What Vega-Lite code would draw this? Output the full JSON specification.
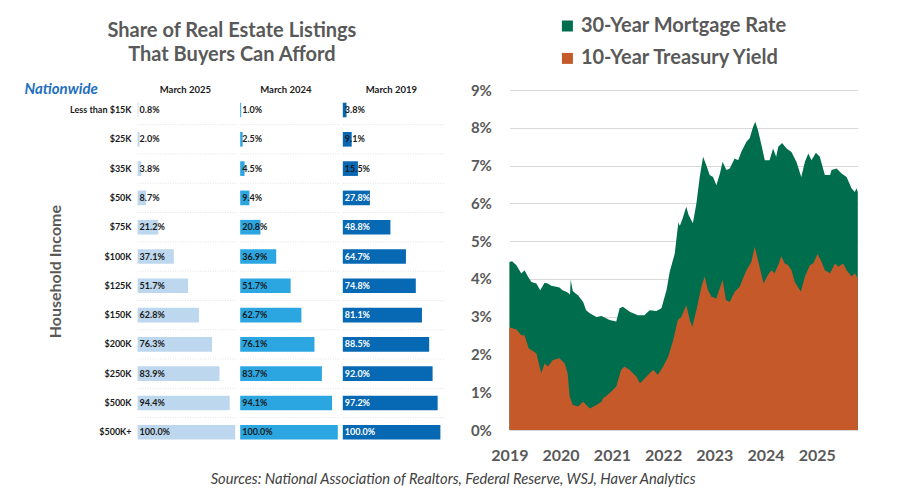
{
  "$schema": "https://vega.github.io/schema/vega-lite/v6.json",
  "padding": {"left": 23, "top": 16, "right": 10, "bottom": 10},
  "bounds": "flush",
  "spacing": 2.6,
  "config": {"view": {"stroke": null}, "font": "Lato"},
  "resolve": {"scale": {"x": "independent", "y": "independent"}},
  "datasets": {
    "afford": [
      {"income": "Less than $15K", "period": "March 2025", "share": 0.008},
      {"income": "$25K", "period": "March 2025", "share": 0.020},
      {"income": "$35K", "period": "March 2025", "share": 0.038},
      {"income": "$50K", "period": "March 2025", "share": 0.087},
      {"income": "$75K", "period": "March 2025", "share": 0.212},
      {"income": "$100K", "period": "March 2025", "share": 0.371},
      {"income": "$125K", "period": "March 2025", "share": 0.517},
      {"income": "$150K", "period": "March 2025", "share": 0.628},
      {"income": "$200K", "period": "March 2025", "share": 0.763},
      {"income": "$250K", "period": "March 2025", "share": 0.839},
      {"income": "$500K", "period": "March 2025", "share": 0.944},
      {"income": "$500K+", "period": "March 2025", "share": 1.000},
      {"income": "Less than $15K", "period": "March 2024", "share": 0.010},
      {"income": "$25K", "period": "March 2024", "share": 0.025},
      {"income": "$35K", "period": "March 2024", "share": 0.045},
      {"income": "$50K", "period": "March 2024", "share": 0.094},
      {"income": "$75K", "period": "March 2024", "share": 0.208},
      {"income": "$100K", "period": "March 2024", "share": 0.369},
      {"income": "$125K", "period": "March 2024", "share": 0.517},
      {"income": "$150K", "period": "March 2024", "share": 0.627},
      {"income": "$200K", "period": "March 2024", "share": 0.761},
      {"income": "$250K", "period": "March 2024", "share": 0.837},
      {"income": "$500K", "period": "March 2024", "share": 0.941},
      {"income": "$500K+", "period": "March 2024", "share": 1.000},
      {"income": "Less than $15K", "period": "March 2019", "share": 0.038},
      {"income": "$25K", "period": "March 2019", "share": 0.091},
      {"income": "$35K", "period": "March 2019", "share": 0.155},
      {"income": "$50K", "period": "March 2019", "share": 0.278},
      {"income": "$75K", "period": "March 2019", "share": 0.488},
      {"income": "$100K", "period": "March 2019", "share": 0.647},
      {"income": "$125K", "period": "March 2019", "share": 0.748},
      {"income": "$150K", "period": "March 2019", "share": 0.811},
      {"income": "$200K", "period": "March 2019", "share": 0.885},
      {"income": "$250K", "period": "March 2019", "share": 0.920},
      {"income": "$500K", "period": "March 2019", "share": 0.972},
      {"income": "$500K+", "period": "March 2019", "share": 1.000}
    ],
    "mortgage": [
      {"date": "2019-01-01", "rate": 4.45}, {"date": "2019-01-20", "rate": 4.47}, {"date": "2019-02-20", "rate": 4.36},
      {"date": "2019-03-27", "rate": 4.14}, {"date": "2019-04-19", "rate": 4.23}, {"date": "2019-05-15", "rate": 4.05},
      {"date": "2019-06-07", "rate": 3.92}, {"date": "2019-07-12", "rate": 3.88}, {"date": "2019-08-09", "rate": 3.70},
      {"date": "2019-09-09", "rate": 3.90}, {"date": "2019-10-01", "rate": 3.88}, {"date": "2019-10-27", "rate": 3.82},
      {"date": "2019-12-01", "rate": 3.79}, {"date": "2019-12-24", "rate": 3.77}, {"date": "2020-01-15", "rate": 3.70},
      {"date": "2020-02-10", "rate": 3.66}, {"date": "2020-02-28", "rate": 3.62}, {"date": "2020-03-08", "rate": 3.58},
      {"date": "2020-03-13", "rate": 3.98}, {"date": "2020-03-28", "rate": 3.68}, {"date": "2020-04-15", "rate": 3.62},
      {"date": "2020-05-04", "rate": 3.57}, {"date": "2020-06-10", "rate": 3.39}, {"date": "2020-07-01", "rate": 3.17},
      {"date": "2020-07-27", "rate": 3.09}, {"date": "2020-09-13", "rate": 2.99}, {"date": "2020-10-19", "rate": 3.02},
      {"date": "2020-12-15", "rate": 2.91}, {"date": "2021-02-01", "rate": 2.87}, {"date": "2021-02-25", "rate": 3.22},
      {"date": "2021-03-20", "rate": 3.26}, {"date": "2021-05-08", "rate": 3.13}, {"date": "2021-07-05", "rate": 3.04},
      {"date": "2021-08-20", "rate": 3.04}, {"date": "2021-09-27", "rate": 3.17}, {"date": "2021-11-14", "rate": 3.15},
      {"date": "2021-12-20", "rate": 3.22}, {"date": "2022-01-25", "rate": 3.70}, {"date": "2022-02-17", "rate": 4.19},
      {"date": "2022-03-25", "rate": 4.67}, {"date": "2022-04-05", "rate": 5.03}, {"date": "2022-04-20", "rate": 5.50},
      {"date": "2022-04-30", "rate": 5.40}, {"date": "2022-05-20", "rate": 5.60}, {"date": "2022-06-15", "rate": 5.91},
      {"date": "2022-07-01", "rate": 5.70}, {"date": "2022-08-01", "rate": 5.47}, {"date": "2022-08-26", "rate": 5.99},
      {"date": "2022-09-19", "rate": 6.70}, {"date": "2022-10-13", "rate": 7.23}, {"date": "2022-11-05", "rate": 7.01},
      {"date": "2022-11-29", "rate": 6.75}, {"date": "2022-12-23", "rate": 6.70}, {"date": "2023-01-16", "rate": 6.48},
      {"date": "2023-02-10", "rate": 6.79}, {"date": "2023-03-01", "rate": 7.10}, {"date": "2023-03-28", "rate": 6.88},
      {"date": "2023-04-21", "rate": 6.92}, {"date": "2023-05-26", "rate": 7.19}, {"date": "2023-06-20", "rate": 7.14},
      {"date": "2023-07-12", "rate": 7.36}, {"date": "2023-08-18", "rate": 7.63}, {"date": "2023-09-10", "rate": 7.72},
      {"date": "2023-10-04", "rate": 8.02}, {"date": "2023-10-20", "rate": 8.16}, {"date": "2023-11-08", "rate": 7.94},
      {"date": "2023-12-01", "rate": 7.58}, {"date": "2023-12-27", "rate": 7.14}, {"date": "2024-01-30", "rate": 7.14},
      {"date": "2024-02-24", "rate": 7.45}, {"date": "2024-03-17", "rate": 7.23}, {"date": "2024-04-01", "rate": 7.50},
      {"date": "2024-04-28", "rate": 7.60}, {"date": "2024-05-30", "rate": 7.45}, {"date": "2024-07-04", "rate": 7.36},
      {"date": "2024-08-08", "rate": 7.10}, {"date": "2024-09-12", "rate": 6.70}, {"date": "2024-10-08", "rate": 7.10},
      {"date": "2024-11-01", "rate": 7.32}, {"date": "2024-11-24", "rate": 7.14}, {"date": "2024-12-25", "rate": 7.34},
      {"date": "2025-01-22", "rate": 7.23}, {"date": "2025-02-27", "rate": 6.75}, {"date": "2025-04-05", "rate": 6.75},
      {"date": "2025-04-16", "rate": 6.88}, {"date": "2025-05-22", "rate": 6.92}, {"date": "2025-06-26", "rate": 6.79},
      {"date": "2025-08-01", "rate": 6.70}, {"date": "2025-09-06", "rate": 6.39}, {"date": "2025-09-29", "rate": 6.30},
      {"date": "2025-10-10", "rate": 6.40}, {"date": "2025-10-20", "rate": 6.30}
    ],
    "treasury": [
      {"date": "2019-01-01", "yield": 2.72}, {"date": "2019-02-20", "yield": 2.66}, {"date": "2019-03-27", "yield": 2.51},
      {"date": "2019-04-19", "yield": 2.51}, {"date": "2019-05-19", "yield": 2.16}, {"date": "2019-07-12", "yield": 2.03},
      {"date": "2019-08-16", "yield": 1.50}, {"date": "2019-09-09", "yield": 1.76}, {"date": "2019-10-03", "yield": 1.68},
      {"date": "2019-11-07", "yield": 1.85}, {"date": "2019-12-24", "yield": 1.90}, {"date": "2020-01-30", "yield": 1.76},
      {"date": "2020-02-20", "yield": 1.50}, {"date": "2020-03-06", "yield": 0.88}, {"date": "2020-03-28", "yield": 0.66},
      {"date": "2020-05-04", "yield": 0.62}, {"date": "2020-06-10", "yield": 0.75}, {"date": "2020-07-27", "yield": 0.57},
      {"date": "2020-09-13", "yield": 0.66}, {"date": "2020-10-19", "yield": 0.75}, {"date": "2020-10-30", "yield": 0.84},
      {"date": "2020-12-15", "yield": 0.97}, {"date": "2021-02-01", "yield": 1.15}, {"date": "2021-03-07", "yield": 1.59},
      {"date": "2021-03-31", "yield": 1.68}, {"date": "2021-05-08", "yield": 1.59}, {"date": "2021-06-25", "yield": 1.41},
      {"date": "2021-07-20", "yield": 1.24}, {"date": "2021-09-27", "yield": 1.50}, {"date": "2021-10-22", "yield": 1.59},
      {"date": "2021-11-25", "yield": 1.46}, {"date": "2022-01-01", "yield": 1.68}, {"date": "2022-02-06", "yield": 1.94},
      {"date": "2022-03-14", "yield": 2.38}, {"date": "2022-04-16", "yield": 2.91}, {"date": "2022-05-10", "yield": 2.99},
      {"date": "2022-06-15", "yield": 3.30}, {"date": "2022-07-10", "yield": 2.91}, {"date": "2022-07-28", "yield": 2.73},
      {"date": "2022-08-26", "yield": 3.17}, {"date": "2022-10-01", "yield": 3.79}, {"date": "2022-10-24", "yield": 4.06},
      {"date": "2022-11-17", "yield": 3.70}, {"date": "2022-12-12", "yield": 3.53}, {"date": "2023-01-16", "yield": 3.48},
      {"date": "2023-02-04", "yield": 3.70}, {"date": "2023-03-01", "yield": 3.97}, {"date": "2023-03-25", "yield": 3.44},
      {"date": "2023-04-21", "yield": 3.39}, {"date": "2023-05-26", "yield": 3.66}, {"date": "2023-07-01", "yield": 3.79},
      {"date": "2023-07-24", "yield": 4.01}, {"date": "2023-08-18", "yield": 4.23}, {"date": "2023-09-22", "yield": 4.45},
      {"date": "2023-10-16", "yield": 4.85}, {"date": "2023-11-08", "yield": 4.50}, {"date": "2023-12-01", "yield": 4.14},
      {"date": "2023-12-18", "yield": 3.88}, {"date": "2024-01-18", "yield": 4.10}, {"date": "2024-02-12", "yield": 4.23},
      {"date": "2024-03-06", "yield": 4.15}, {"date": "2024-04-05", "yield": 4.41}, {"date": "2024-04-22", "yield": 4.60},
      {"date": "2024-05-17", "yield": 4.41}, {"date": "2024-06-09", "yield": 4.37}, {"date": "2024-07-04", "yield": 4.23},
      {"date": "2024-07-28", "yield": 3.92}, {"date": "2024-09-09", "yield": 3.66}, {"date": "2024-10-08", "yield": 4.06},
      {"date": "2024-11-13", "yield": 4.37}, {"date": "2024-12-06", "yield": 4.41}, {"date": "2025-01-06", "yield": 4.66},
      {"date": "2025-02-04", "yield": 4.45}, {"date": "2025-02-27", "yield": 4.23}, {"date": "2025-04-05", "yield": 4.15},
      {"date": "2025-05-10", "yield": 4.41}, {"date": "2025-06-03", "yield": 4.32}, {"date": "2025-07-08", "yield": 4.41},
      {"date": "2025-08-01", "yield": 4.23}, {"date": "2025-09-06", "yield": 4.06}, {"date": "2025-09-29", "yield": 4.15},
      {"date": "2025-10-20", "yield": 4.01}
    ]
  },
  "hconcat": [
    {
      "width": 1,
      "height": 362.3,
      "data": {"name": "afford"},
      "transform": [{"filter": "datum.period === 'March 2025'"}],
      "title": {"text": ["Share of Real Estate Listings", "That Buyers Can Afford"], "anchor": "start", "frame": "group", "align": "center", "dx": 97.9, "offset": 16, "fontSize": 20, "lineHeight": 24.5, "fontWeight": "bold", "color": "#595959"},
      "mark": {"type": "bar", "opacity": 0},
      "encoding": {
        "y": {
          "field": "income", "type": "nominal",
          "scale": {"domain": ["Less than $15K", "$25K", "$35K", "$50K", "$75K", "$100K", "$125K", "$150K", "$200K", "$250K", "$500K", "$500K+"], "paddingInner": 0.5, "paddingOuter": 0.4326},
          "axis": {"orient": "left", "title": "Household Income", "titleFontSize": 16, "titleFontWeight": "bold", "titleColor": "#595959", "titlePadding": 6, "labelFontSize": 9, "labelFontWeight": "bold", "labelColor": "#1a1a1a", "labelPadding": 3, "ticks": false, "domain": false, "grid": false}
        },
        "x": {
          "field": "share", "type": "quantitative", "scale": {"domain": [0, 1], "nice": false},
          "axis": {"orient": "top", "labels": false, "ticks": false, "domain": false, "grid": false, "title": "Nationwide", "titleX": -110.1, "titleY": 3.3, "titleAlign": "left", "titleBaseline": "alphabetic", "titleFontSize": 15, "titleFontStyle": "italic", "titleFontWeight": "bold", "titleColor": "#1f6fbf"}
        }
      }
    },
    {
      "width": 100,
      "height": 362.3,
      "data": {"name": "afford"},
      "transform": [{"filter": "datum.period === 'March 2025'"}],
      "title": {"text": "March 2025", "anchor": "start", "frame": "group", "align": "center", "dx": 47.8, "dy": 9, "baseline": "alphabetic", "offset": -3.3, "fontSize": 9.5, "fontWeight": "bold", "color": "#1a1a1a"},
      "layer": [
        {
          "transform": [{"filter": "datum.income !== '$500K+'"}],
          "mark": {"type": "rule", "color": "#e2e2e2", "strokeDash": [1, 1.5], "strokeWidth": 1},
          "encoding": {
            "y": {"field": "income", "type": "nominal", "bandPosition": 1.5, "axis": null},
            "x": {"datum": 0, "axis": null},
            "x2": {"datum": 1.0246}
          }
        },
        {
          "mark": {"type": "bar", "color": "#bdd7ee"},
          "encoding": {
            "y": {"field": "income", "type": "nominal",
              "scale": {"domain": ["Less than $15K", "$25K", "$35K", "$50K", "$75K", "$100K", "$125K", "$150K", "$200K", "$250K", "$500K", "$500K+"], "paddingInner": 0.5, "paddingOuter": 0.4326},
              "axis": {"labels": false, "ticks": false, "domain": true, "domainColor": "#dfe4ea", "grid": false, "title": null}},
            "x": {"field": "share", "type": "quantitative", "scale": {"domain": [0, 1.0246], "nice": false}, "axis": null}
          }
        },
        {
          "mark": {"type": "text", "align": "left", "dx": 2, "fontSize": 9, "fontWeight": "bold", "color": "#1a1a1a"},
          "encoding": {
            "y": {"field": "income", "type": "nominal"},
            "x": {"datum": 0, "axis": null},
            "text": {"field": "share", "type": "quantitative", "format": ".1%"}
          }
        }
      ]
    },
    {
      "width": 100,
      "height": 362.3,
      "data": {"name": "afford"},
      "transform": [{"filter": "datum.period === 'March 2024'"}],
      "title": {"text": "March 2024", "anchor": "start", "frame": "group", "align": "center", "dx": 45.7, "dy": 9, "baseline": "alphabetic", "offset": -3.3, "fontSize": 9.5, "fontWeight": "bold", "color": "#1a1a1a"},
      "layer": [
        {
          "transform": [{"filter": "datum.income !== '$500K+'"}],
          "mark": {"type": "rule", "color": "#e2e2e2", "strokeDash": [1, 1.5], "strokeWidth": 1},
          "encoding": {
            "y": {"field": "income", "type": "nominal", "bandPosition": 1.5, "axis": null},
            "x": {"datum": 0, "axis": null},
            "x2": {"datum": 1.0246}
          }
        },
        {
          "mark": {"type": "bar", "color": "#2ba6e1"},
          "encoding": {
            "y": {"field": "income", "type": "nominal",
              "scale": {"domain": ["Less than $15K", "$25K", "$35K", "$50K", "$75K", "$100K", "$125K", "$150K", "$200K", "$250K", "$500K", "$500K+"], "paddingInner": 0.5, "paddingOuter": 0.4326},
              "axis": {"labels": false, "ticks": false, "domain": true, "domainColor": "#dfe4ea", "grid": false, "title": null}},
            "x": {"field": "share", "type": "quantitative", "scale": {"domain": [0, 1.0246], "nice": false}, "axis": null}
          }
        },
        {
          "mark": {"type": "text", "align": "left", "dx": 2, "fontSize": 9, "fontWeight": "bold", "color": "#1a1a1a"},
          "encoding": {
            "y": {"field": "income", "type": "nominal"},
            "x": {"datum": 0, "axis": null},
            "text": {"field": "share", "type": "quantitative", "format": ".1%"}
          }
        }
      ]
    },
    {
      "width": 163.8,
      "height": 362.3,
      "data": {"name": "afford"},
      "transform": [{"filter": "datum.period === 'March 2019'"}],
      "title": {"text": "March 2019", "anchor": "start", "frame": "group", "align": "center", "dx": 48.6, "dy": 9, "baseline": "alphabetic", "offset": -3.3, "fontSize": 9.5, "fontWeight": "bold", "color": "#1a1a1a"},
      "layer": [
        {
          "transform": [{"filter": "datum.income !== '$500K+'"}],
          "mark": {"type": "rule", "color": "#e2e2e2", "strokeDash": [1, 1.5], "strokeWidth": 1},
          "encoding": {
            "y": {"field": "income", "type": "nominal", "bandPosition": 1.5, "axis": null},
            "x": {"datum": 0, "axis": null},
            "x2": {"datum": 1.036}
          }
        },
        {
          "mark": {"type": "bar", "color": "#0768b4"},
          "encoding": {
            "y": {"field": "income", "type": "nominal",
              "scale": {"domain": ["Less than $15K", "$25K", "$35K", "$50K", "$75K", "$100K", "$125K", "$150K", "$200K", "$250K", "$500K", "$500K+"], "paddingInner": 0.5, "paddingOuter": 0.4326},
              "axis": {"labels": false, "ticks": false, "domain": true, "domainColor": "#dfe4ea", "grid": false, "title": null}},
            "x": {"field": "share", "type": "quantitative", "scale": {"domain": [0, 1.6783], "nice": false}, "axis": null}
          }
        },
        {
          "mark": {"type": "text", "align": "left", "dx": 2, "fontSize": 9, "fontWeight": "bold"},
          "encoding": {
            "y": {"field": "income", "type": "nominal"},
            "x": {"datum": 0, "axis": null},
            "text": {"field": "share", "type": "quantitative", "format": ".1%"},
            "color": {"condition": {"test": "datum.share > 0.2", "value": "#ffffff"}, "value": "#1a1a1a"}
          }
        }
      ]
    },
    {
      "width": 348.4,
      "height": 340,
      "layer": [
        {
          "data": {"name": "mortgage"},
          "mark": {"type": "area", "opacity": 1},
          "encoding": {
            "x": {"field": "date", "type": "temporal",
              "scale": {"type": "utc", "domain": [{"year": 2019, "month": 1, "date": 1, "utc": true}, {"year": 2025, "month": 10, "date": 20, "utc": true}]},
              "axis": {
                "values": [{"year": 2019, "month": 1, "date": 1, "utc": true}, {"year": 2020, "month": 1, "date": 1, "utc": true}, {"year": 2021, "month": 1, "date": 1, "utc": true}, {"year": 2022, "month": 1, "date": 1, "utc": true}, {"year": 2023, "month": 1, "date": 1, "utc": true}, {"year": 2024, "month": 1, "date": 1, "utc": true}, {"year": 2025, "month": 1, "date": 1, "utc": true}],
                "format": "%Y", "labelFlush": false, "labelOverlap": false,
                "labelFontSize": 16, "labelFontWeight": "bold", "labelColor": "#595959", "labelPadding": 17,
                "ticks": false, "domain": false, "grid": false,
                "title": "Sources: National Association of Realtors, Federal Reserve, WSJ, Haver Analytics",
                "titleX": -56.8, "titleY": 49, "titleAlign": "center", "titleBaseline": "middle",
                "titleFontSize": 14.7, "titleFontStyle": "italic", "titleFontWeight": "normal", "titleColor": "#404040"
              }
            },
            "y": {"field": "rate", "type": "quantitative", "scale": {"domain": [0, 9], "nice": false},
              "axis": {"values": [0, 1, 2, 3, 4, 5, 6, 7, 8, 9], "labelExpr": "datum.value + '%'", "labelOverlap": false, "labelBound": false, "labelFontSize": 15, "labelFontWeight": "bold", "labelColor": "#595959", "labelPadding": 18, "ticks": false, "domain": false, "grid": true, "gridColor": "#d9d9d9", "title": null}},
            "color": {"datum": "30-Year Mortgage Rate",
              "scale": {"domain": ["30-Year Mortgage Rate", "10-Year Treasury Yield"], "range": ["#006e4c", "#c5592a"]},
              "legend": {"orient": "none", "legendX": 423.4, "legendY": -74, "direction": "vertical", "title": null, "symbolType": "square", "symbolSize": 121, "symbolStrokeWidth": 0, "symbolOpacity": 1, "labelFontSize": 20, "labelFontWeight": "bold", "labelColor": "#595959", "labelOffset": 3.5, "labelLimit": 400, "rowPadding": 12.4, "padding": 0}}
          }
        },
        {
          "data": {"name": "treasury"},
          "mark": {"type": "area", "opacity": 1},
          "encoding": {
            "x": {"field": "date", "type": "temporal",
              "axis": {
                "values": [{"year": 2019, "month": 1, "date": 1, "utc": true}, {"year": 2020, "month": 1, "date": 1, "utc": true}, {"year": 2021, "month": 1, "date": 1, "utc": true}, {"year": 2022, "month": 1, "date": 1, "utc": true}, {"year": 2023, "month": 1, "date": 1, "utc": true}, {"year": 2024, "month": 1, "date": 1, "utc": true}, {"year": 2025, "month": 1, "date": 1, "utc": true}],
                "format": "%Y", "labelFlush": false, "labelOverlap": false,
                "labelFontSize": 16, "labelFontWeight": "bold", "labelColor": "#595959", "labelPadding": 17,
                "ticks": false, "domain": false, "grid": false,
                "title": "Sources: National Association of Realtors, Federal Reserve, WSJ, Haver Analytics",
                "titleX": -56.8, "titleY": 49, "titleAlign": "center", "titleBaseline": "middle",
                "titleFontSize": 14.7, "titleFontStyle": "italic", "titleFontWeight": "normal", "titleColor": "#404040"
              }
            },
            "y": {"field": "yield", "type": "quantitative",
              "axis": {"values": [0, 1, 2, 3, 4, 5, 6, 7, 8, 9], "labelExpr": "datum.value + '%'", "labelOverlap": false, "labelBound": false, "labelFontSize": 15, "labelFontWeight": "bold", "labelColor": "#595959", "labelPadding": 18, "ticks": false, "domain": false, "grid": true, "gridColor": "#d9d9d9", "title": null}},
            "color": {"datum": "10-Year Treasury Yield"}
          }
        }
      ]
    }
  ]
}
